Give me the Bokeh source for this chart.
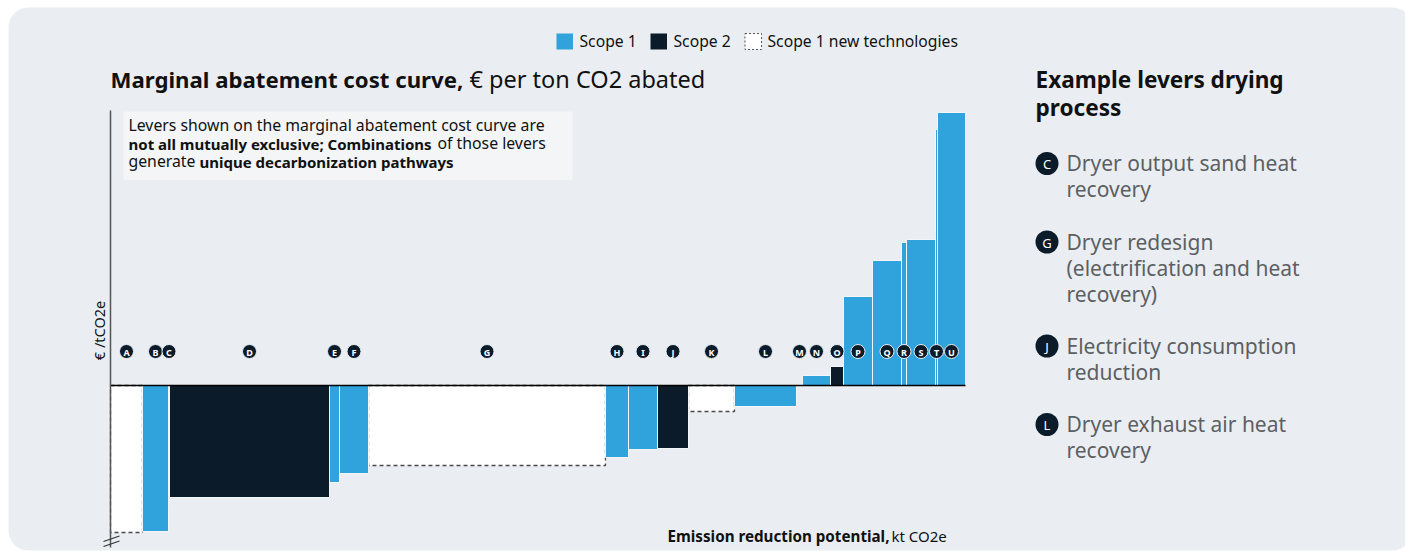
import numpy as np
from bokeh.plotting import figure
from bokeh.models import ColumnDataSource, Range1d, Label
from bokeh.core.properties import value
from bokeh.embed import file_html
from bokeh.resources import INLINE

# ---------------- data ----------------
levers = list("ABCDEFGHIJKLMNOPQRSTU")
potential_kt = [3.2, 2.6, 0.1, 16.0, 1.0, 2.9, 23.7, 2.3, 2.9, 3.1, 4.6,
                6.2, 0.6, 2.8, 1.3, 2.9, 2.9, 0.5, 2.9, 0.2, 2.8]
cost_eur_t = [-147, -146, -120, -112, -97, -88, -80, -72, -64, -63, -26,
              -21, 0.5, 10, 19, 89, 125, 143, 146, 256, 273]
scope = ["new", "s1", "s1", "s2", "s1", "s1", "new", "s1", "s1", "s2", "new",
         "s1", "s1", "s1", "s2", "s1", "s1", "s1", "s1", "s1", "s1"]
legend_names = ["Scope 1", "Scope 2", "Scope 1 new technologies"]
example_levers = ["C", "G", "J", "L"]
example_texts = [["Dryer output sand heat", "recovery"],
                 ["Dryer redesign", "(electrification and heat", "recovery)"],
                 ["Electricity consumption", "reduction"],
                 ["Dryer exhaust air heat", "recovery"]]

# ---------------- style ----------------
FONT = "Noto Sans"
C_S1 = "#30a3dc"
C_S2 = "#0b1b29"
C_PANEL = "#eaeef2"
C_DARK = "#0b1b29"
W, H = 1405, 551

# pixel layout helpers (frame covers whole canvas)
X0_PX, Y0_PX, PX_PER_KT, PX_PER_EUR = 110, 385, 10.0, 1.0
def X(px):
    return (px - X0_PX) / PX_PER_KT
def Y(py):
    return (Y0_PX - py) / PX_PER_EUR

p = figure(width=W, height=H, output_backend="svg", toolbar_location=None,
           x_range=Range1d(X(0), X(W)), y_range=Range1d(Y(H), Y(0)),
           x_axis_type=None, y_axis_type=None, min_border=0,
           background_fill_color="white", border_fill_color="white",
           outline_line_color=None)
p.grid.visible = False

# background card
p.quad(left=[X(8)], right=[X(1412)], top=[Y(7)], bottom=[Y(550)],
       fill_color=C_PANEL, line_color=None, border_radius=20)

# note box
p.quad(left=[X(123)], right=[X(572)], top=[Y(111)], bottom=[Y(179.5)],
       fill_color="#f3f5f7", line_color=None)

# ---------------- bars ----------------
right = np.cumsum(potential_kt)
left = right - np.array(potential_kt)
cost = np.array(cost_eur_t, dtype=float)
top = np.maximum(cost, 0)
bot = np.minimum(cost, 0)
centers = (left + right) / 2

def subset(kind):
    idx = [i for i, s in enumerate(scope) if s == kind]
    return ColumnDataSource(dict(left=left[idx], right=right[idx], top=top[idx],
                                 bottom=bot[idx]))

p.quad(left="left", right="right", top="top", bottom="bottom", source=subset("new"),
       fill_color="white", line_color="#4a4a4a", line_dash="4 3", line_width=1.3)
p.quad(left="left", right="right", top="top", bottom="bottom", source=subset("s1"),
       fill_color=C_S1, line_color="#f2f6f9", line_width=1)
p.quad(left="left", right="right", top="top", bottom="bottom", source=subset("s2"),
       fill_color=C_S2, line_color="#f2f6f9", line_width=1)

# zero line and y axis
p.segment(x0=[0], x1=[right[-1]], y0=[0], y1=[0], line_color="black", line_width=1.5)
p.segment(x0=[0], x1=[0], y0=[Y(110)], y1=[Y(547)], line_color="#555555", line_width=1.5)
# axis break marks
p.segment(x0=[X(103), X(103)], x1=[X(119), X(119)], y0=[Y(541), Y(546)],
          y1=[Y(535.5), Y(540.5)], line_color="#333333", line_width=1.2)

# lever label circles
lab_src = ColumnDataSource(dict(x=centers, y=[Y(351)] * len(levers), t=levers))
p.scatter(x="x", y="y", source=lab_src, size=14, fill_color=C_DARK,
          line_color="#e6edf3", line_width=1)
p.text(x="x", y="y", text="t", source=lab_src, text_color="white",
       text_font=value(FONT), text_font_style="bold", text_font_size="9px",
       text_align="center", text_baseline="middle", y_offset=0.5)

# ---------------- texts ----------------
SHIFT = 0.4  # compensation of rendered baseline offset (fraction of font size)
def lab(px, py, text, size, bold=False, color="#111111", align="left", angle=0.0):
    if angle == 0.0:
        py = py - SHIFT * size
    else:
        px = px - SHIFT * size
    p.add_layout(Label(x=X(px), y=Y(py), text=text, text_font=FONT,
                       text_font_size=f"{size}px",
                       text_font_style="bold" if bold else "normal",
                       text_color=color, text_align=align,
                       text_baseline="alphabetic", angle=angle))

# legend
leg_x = [556, 650, 744.5]
leg_tx = [579, 673, 767]
p.quad(left=[X(leg_x[0])], right=[X(leg_x[0] + 16.5)], top=[Y(33)], bottom=[Y(49)],
       fill_color=C_S1, line_color=None)
p.quad(left=[X(leg_x[1])], right=[X(leg_x[1] + 16.5)], top=[Y(33)], bottom=[Y(49)],
       fill_color=C_S2, line_color=None)
p.quad(left=[X(leg_x[2])], right=[X(leg_x[2] + 16.5)], top=[Y(33)], bottom=[Y(49)],
       fill_color="white", line_color="#555555", line_dash="2 2", line_width=1)
for tx, name in zip(leg_tx, legend_names):
    lab(tx, 47, name, 15.7)

# title
lab(110, 88, "Marginal abatement cost curve,", 22.2, bold=True)
lab(469, 88, "€ per ton CO2 abated", 23.5)

# note
lab(128, 131, "Levers shown on the marginal abatement cost curve are", 15.8)
lab(128, 149, "not all mutually exclusive; Combinations", 15, bold=True)
lab(437, 149, "of those levers", 15.8)
lab(128, 167, "generate", 15.8)
lab(199, 167, "unique decarbonization pathways", 15, bold=True)

# axis titles
lab(104, 330, "€ /tCO2e", 14.5, align="center", angle=np.pi / 2)
lab(667, 541.5, "Emission reduction potential,", 15.2, bold=True)
lab(891, 541.5, "kt CO2e", 15)

# right panel
lab(1035, 88, "Example levers drying", 22.6, bold=True)
lab(1035, 116, "process", 22.6, bold=True)

circle_y = [163, 241.5, 345.5, 424]
ex_src = ColumnDataSource(dict(x=[X(1046.5)] * 4, y=[Y(v) for v in circle_y],
                               t=example_levers))
p.scatter(x="x", y="y", source=ex_src, size=23, fill_color=C_DARK, line_color=None)
p.text(x="x", y="y", text="t", source=ex_src, text_color="white",
       text_font=value(FONT), text_font_size="13px", text_align="center",
       text_baseline="middle", y_offset=0.5)
for cy, lines in zip(circle_y, example_texts):
    for k, line in enumerate(lines):
        lab(1066, cy + 8 + 26 * k, line, 21, color="#5c5f63")

open("out.html", "w").write(file_html(p, INLINE))
